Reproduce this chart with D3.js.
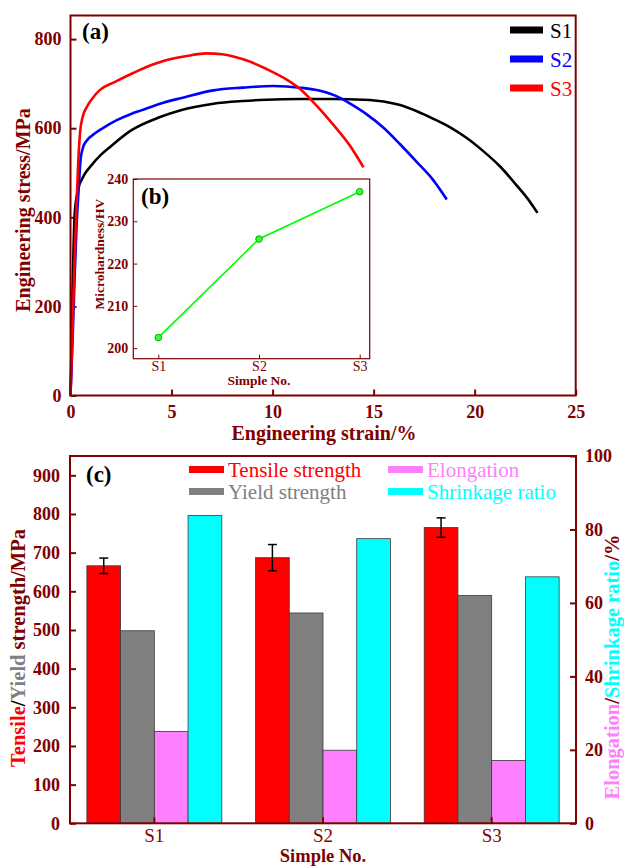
<!DOCTYPE html>
<html><head><meta charset="utf-8">
<script src="https://cdn.jsdelivr.net/npm/d3@7"></script>
<style>
body{margin:0;background:#fff;}
svg{display:block;font-family:"Liberation Serif","Times New Roman",serif;}
</style></head>
<body><svg id="c" width="624" height="866"></svg>
<script>
// ---------- Data: panel (a) stress-strain curves ----------
const strainS1 = [0,0.05,0.1,0.15,0.2,0.3,0.45,0.55,0.7,1.0,1.5,1.96,3.0,4.43,5.5,7.07,8.5,9.7,11.36,13.0,14.5,15.49,16.31,17.14,17.96,18.79,19.61,20.44,21.26,22.09,22.75,23.11];
const stressS1 = [0,100,230,330,400,445,475,484,497,515,540,558,595,625,641,655,661,664,665.5,665.5,664,660,652,638,621,602,578,548,514,471,434,410];
const strainS2 = [0,0.1,0.2,0.3,0.4,0.5,0.63,0.8,1.2,1.6,2.29,3.0,3.5,4.43,5.5,7.07,8.5,10.04,11.36,12.35,13.34,13.84,14.66,15.49,16.31,17.14,17.96,18.62];
const stressS2 = [0,120,260,380,460,530,558,572,588,600,618,632,640,655,668,685,691,694.6,691,684,668,655,631,601,564,524,483,440];
const strainS3 = [0,0.1,0.2,0.3,0.38,0.47,0.6,0.8,1.1,1.46,2.2,3.1,4.0,4.6,5.75,6.74,7.5,8.06,8.9,9.7,10.7,11.36,12.19,13.0,13.84,14.5];
const stressS3 = [0,150,300,430,520,589,625,647,668,686,704,724,742,751,762,768,766,761,749,733,709,688,650,608,560,512];
const seriesNames = ["S1","S2","S3"];
const seriesColors = ["#000000","#0000ff","#ff0000"];
const strainTicks = [0,5,10,15,20,25];
const stressTicks = [0,200,400,600,800];

// ---------- Data: panel (b) microhardness ----------
const hardnessSamples = ["S1","S2","S3"];
const hardness = [202.5,225.8,237.0];
const hardnessTicks = [200,210,220,230,240];

// ---------- Data: panel (c) mechanical properties ----------
const samples = ["S1","S2","S3"];
const tensile = [666,687,765];
const tensileErr = [20,34,25];
const yieldStr = [498,544,589];
const elongation = [25.0,19.9,17.1];
const shrinkage = [83.8,77.5,67.1];
const strengthTicks = [0,100,200,300,400,500,600,700,800,900];
const percentTicks = [0,20,40,60,80,100];

const DR = "#800000";
const FF = '"Liberation Serif","Times New Roman",serif';
const svg = d3.select("#c");

function styleAxis(g, size, bold){
  g.select(".domain").remove();
  g.attr("font-family",FF);
  g.selectAll(".tick line").attr("stroke",DR).attr("stroke-width",2);
  g.selectAll(".tick text").attr("fill",DR).attr("font-size",size)
    .attr("font-weight",bold?"bold":"normal").attr("font-family",FF);
}

// ================= Panel (a) =================
const ax = d3.scaleLinear([0,25],[70.5,575.7]);
const ay = d3.scaleLinear([0,853],[395.5,15.5]);
const gA = svg.append("g");
gA.append("g").attr("transform","translate(0,395.5)")
  .call(d3.axisBottom(ax).tickValues(strainTicks).tickSize(-6).tickPadding(10).tickFormat(d3.format("d")))
  .call(g=>styleAxis(g,18,true));
gA.append("g").attr("transform","translate(70.5,0)")
  .call(d3.axisLeft(ay).tickValues(stressTicks).tickSize(-6).tickPadding(9))
  .call(g=>styleAxis(g,18,true));
const curves = [[strainS1,stressS1],[strainS2,stressS2],[strainS3,stressS3]];
const line = d3.line().x(d=>ax(d[0])).y(d=>ay(d[1])).curve(d3.curveMonotoneX);
curves.forEach((c,i)=>{
  const pts = c[0].map((s,j)=>[s,c[1][j]]);
  gA.append("path").attr("d",line(pts)).attr("fill","none")
    .attr("stroke",seriesColors[i]).attr("stroke-width",2.6).attr("stroke-linejoin","round");
});
gA.append("rect").attr("x",ax(0)).attr("y",ay(853)).attr("width",ax(25)-ax(0)).attr("height",ay(0)-ay(853))
  .attr("fill","none").attr("stroke",DR).attr("stroke-width",2);
// legend (a)
seriesNames.forEach((n,i)=>{
  const yy = 30 + i*29;
  gA.append("line").attr("x1",510).attr("x2",543).attr("y1",yy).attr("y2",yy)
    .attr("stroke",seriesColors[i]).attr("stroke-width",7);
  gA.append("text").attr("x",550).attr("y",yy+8).attr("font-size",21).attr("fill",seriesColors[i]).text(n);
});
gA.append("text").attr("x",82).attr("y",39).attr("font-size",23).attr("font-weight","bold").text("(a)");
gA.append("text").attr("x",324).attr("y",440).attr("text-anchor","middle").attr("font-size",20)
  .attr("font-weight","bold").attr("fill",DR).text("Engineering strain/%");
gA.append("text").attr("transform","translate(30,210) rotate(-90)").attr("text-anchor","middle")
  .attr("font-size",20).attr("font-weight","bold").attr("fill",DR).text("Engineering stress/MPa");

// ================= Panel (b) inset =================
const bx = d3.scalePoint(hardnessSamples,[158.3,359.7]);
const by = d3.scaleLinear([197.5,240],[358.7,179]);
const gB = svg.append("g");
gB.append("rect").attr("x",133.3).attr("y",179).attr("width",369.7-133.3).attr("height",358.7-179)
  .attr("fill","#fff").attr("stroke",DR).attr("stroke-width",1.2);
gB.append("g").attr("transform","translate(0,358.7)")
  .call(d3.axisBottom(bx).tickSize(-4).tickPadding(2))
  .call(g=>{g.select(".domain").remove();
    g.selectAll(".tick line").attr("stroke",DR).attr("stroke-width",1);
    g.selectAll(".tick text").attr("fill",DR).attr("font-size",14).attr("font-family",FF);});
gB.append("g").attr("transform","translate(133.3,0)")
  .call(d3.axisLeft(by).tickValues(hardnessTicks).tickSize(-4).tickPadding(5))
  .call(g=>{g.select(".domain").remove();
    g.selectAll(".tick line").attr("stroke",DR).attr("stroke-width",1);
    g.selectAll(".tick text").attr("fill",DR).attr("font-size",14).attr("font-weight","bold").attr("font-family",FF);});
const hpts = hardnessSamples.map((s,i)=>[bx(s),by(hardness[i])]);
gB.append("path").attr("d",d3.line()(hpts)).attr("fill","none").attr("stroke","#00ff00").attr("stroke-width",1.6);
gB.selectAll("circle.h").data(hpts).join("circle").attr("cx",d=>d[0]).attr("cy",d=>d[1]).attr("r",3.3)
  .attr("fill","#33ff33").attr("stroke","#00b000").attr("stroke-width",1);
gB.append("text").attr("x",141).attr("y",204).attr("font-size",23).attr("font-weight","bold").text("(b)");
gB.append("text").attr("x",259).attr("y",385).attr("text-anchor","middle").attr("font-size",13.5)
  .attr("font-weight","bold").attr("fill",DR).text("Simple No.");
gB.append("text").attr("transform","translate(104,254) rotate(-90)").attr("text-anchor","middle")
  .attr("font-size",13.5).attr("font-weight","bold").attr("fill",DR).text("Microhardness/HV");

// ================= Panel (c) =================
const cx = d3.scaleBand(samples,[70,576]).paddingInner(0.2).paddingOuter(0.1);
const metrics = ["tensile","yield","elong","shrink"];
const sub = d3.scaleBand(metrics,[0,cx.bandwidth()]);
const cyL = d3.scaleLinear([0,950],[823.3,456]);
const cyR = d3.scaleLinear([0,100],[823.3,456]);
const gC = svg.append("g");
const barDefs = [
  {k:"tensile",vals:tensile,y:cyL,fill:"#ff0000"},
  {k:"yield",vals:yieldStr,y:cyL,fill:"#808080"},
  {k:"elong",vals:elongation,y:cyR,fill:"#ff80ff"},
  {k:"shrink",vals:shrinkage,y:cyR,fill:"#00ffff"}
];
barDefs.forEach(b=>{
  gC.selectAll(null).data(samples).join("rect")
    .attr("x",s=>cx(s)+sub(b.k)).attr("width",sub.bandwidth())
    .attr("y",(s,i)=>b.y(b.vals[i])).attr("height",(s,i)=>b.y(0)-b.y(b.vals[i]))
    .attr("fill",b.fill).attr("stroke","#3a3a3a").attr("stroke-width",0.8);
});
// error bars
samples.forEach((s,i)=>{
  const xm = cx(s)+sub("tensile")+sub.bandwidth()/2;
  const y1 = cyL(tensile[i]+tensileErr[i]), y2 = cyL(tensile[i]-tensileErr[i]);
  gC.append("line").attr("x1",xm).attr("x2",xm).attr("y1",y1).attr("y2",y2).attr("stroke","#000").attr("stroke-width",1.5);
  [y1,y2].forEach(yy=>gC.append("line").attr("x1",xm-4.5).attr("x2",xm+4.5).attr("y1",yy).attr("y2",yy).attr("stroke","#000").attr("stroke-width",1.5));
});
gC.append("g").attr("transform","translate(0,823.3)")
  .call(d3.axisBottom(cx).tickSize(-6).tickPadding(5))
  .call(g=>{styleAxis(g,19,false);});
gC.append("g").attr("transform","translate(70,0)")
  .call(d3.axisLeft(cyL).tickValues(strengthTicks).tickSize(-6).tickPadding(10))
  .call(g=>styleAxis(g,18,true));
gC.append("g").attr("transform","translate(576,0)")
  .call(d3.axisRight(cyR).tickValues(percentTicks).tickSize(-6).tickPadding(9))
  .call(g=>styleAxis(g,18,true));
gC.append("rect").attr("x",70).attr("y",456).attr("width",506).attr("height",823.3-456)
  .attr("fill","none").attr("stroke",DR).attr("stroke-width",2);
gC.append("text").attr("x",86).attr("y",482).attr("font-size",23).attr("font-weight","bold").text("(c)");
// legend (c)
const legC = [
  {t:"Tensile strength",c:"#ff0000",x:189,y:469.5},
  {t:"Yield strength",c:"#808080",x:189,y:491.5},
  {t:"Elongation",c:"#ff80ff",x:388,y:469.5},
  {t:"Shrinkage ratio",c:"#00ffff",x:388,y:491.5}
];
legC.forEach(l=>{
  gC.append("rect").attr("x",l.x).attr("y",l.y-3.5).attr("width",35).attr("height",7).attr("fill",l.c);
  gC.append("text").attr("x",l.x+39).attr("y",l.y+7).attr("font-size",21).attr("fill",l.c).text(l.t);
});
gC.append("text").attr("x",323).attr("y",862).attr("text-anchor","middle").attr("font-size",18.5)
  .attr("font-weight","bold").attr("fill",DR).text("Simple No.");
const tl = gC.append("text").attr("transform","translate(25,648) rotate(-90)").attr("text-anchor","middle")
  .attr("font-size",20.5).attr("font-weight","bold");
tl.append("tspan").attr("fill","#ff0000").text("Tensile");
tl.append("tspan").attr("fill","#000").text("/");
tl.append("tspan").attr("fill","#808080").text("Yield");
tl.append("tspan").attr("fill",DR).text(" strength/MPa");
const tr = gC.append("text").attr("transform","translate(619,667) rotate(-90)").attr("text-anchor","middle")
  .attr("font-size",20.5).attr("font-weight","bold");
tr.append("tspan").attr("fill","#ff80ff").text("Elongation");
tr.append("tspan").attr("fill",DR).text("/");
tr.append("tspan").attr("fill","#00ffff").text("Shrinkage ratio");
tr.append("tspan").attr("fill",DR).text("/%");
</script></body></html>
